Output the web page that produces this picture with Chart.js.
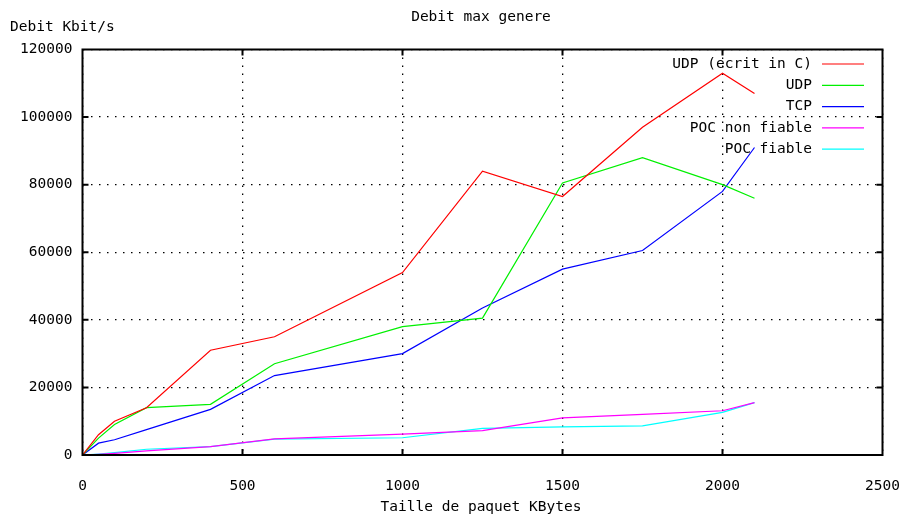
<!DOCTYPE html>
<html>
<head>
<meta charset="utf-8">
<script src="https://cdn.jsdelivr.net/npm/chart.js@4/dist/chart.umd.min.js"></script>
<style>
  html, body { margin: 0; padding: 0; background: #fff; }
  #wrap { width: 900px; height: 515px; }
</style>
</head>
<body>
<div id="wrap"><canvas id="lineChart" width="900" height="515"></canvas></div>
<script>
// valeurs
const tailles = [0, 50, 100, 200, 400, 600, 1000, 1250, 1500, 1750, 2000, 2100];
const udpC = [0, 6000, 10000, 14000, 31000, 35000, 54000, 84000, 76500, 97000, 113000, 107000];
const udp = [0, 5000, 9000, 14000, 15000, 27000, 38000, 40500, 80500, 88000, 80000, 76000];
const tcp = [0, 3500, 4500, 7500, 13500, 23500, 30000, 43500, 55000, 60500, 78000, 91000];
const pocNonFiable = [0, 200, 500, 1200, 2500, 4800, 6200, 7200, 11000, 12000, 13100, 15500];
const pocFiable = [0, 300, 700, 1700, 2500, 4700, 5100, 7900, 8300, 8600, 12600, 15500];
const xTicks = [0, 500, 1000, 1500, 2000, 2500];
const yTicks = [0, 20000, 40000, 60000, 80000, 100000, 120000];

const police = '14.5px "DejaVu Sans Mono", monospace';

function points(vals) {
    return tailles.map(function(t, i) { return { x: t, y: vals[i] }; });
}

function serie(label, vals, color) {
    return {
        label: label,
        data: points(vals),
        borderColor: color,
        backgroundColor: color,
        borderWidth: 1.2,
        pointRadius: 0,
        tension: 0
    };
}

// cadre, graduations internes, titres et legende facon gnuplot
const gnuplotStyle = {
    id: 'gnuplotStyle',
    afterDraw: function(chart) {
        const c = chart.ctx;
        const a = chart.chartArea;
        const sx = chart.scales.x, sy = chart.scales.y;
        c.save();
        c.strokeStyle = '#000';
        c.lineWidth = 2;
        c.strokeRect(a.left, a.top, a.right - a.left, a.bottom - a.top);
        c.beginPath();
        xTicks.slice(1, -1).forEach(function(v) {
            const px = sx.getPixelForValue(v);
            c.moveTo(px, a.bottom); c.lineTo(px, a.bottom - 6);
            c.moveTo(px, a.top); c.lineTo(px, a.top + 6);
        });
        yTicks.slice(1, -1).forEach(function(v) {
            const py = sy.getPixelForValue(v);
            c.moveTo(a.left, py); c.lineTo(a.left + 6, py);
            c.moveTo(a.right, py); c.lineTo(a.right - 6, py);
        });
        c.stroke();

        c.fillStyle = '#000';
        c.font = police;
        c.textBaseline = 'middle';
        c.textAlign = 'center';
        c.fillText('Debit max genere', 481, 17);
        c.fillText('Taille de paquet KBytes', 481, 507);
        c.textAlign = 'left';
        c.fillText('Debit Kbit/s', 10, 27);

        // legende
        c.textAlign = 'right';
        chart.data.datasets.forEach(function(ds, i) {
            const y = 64 + i * 21.3;
            c.fillStyle = '#000';
            c.fillText(ds.label, 812, y);
            c.strokeStyle = ds.borderColor;
            c.lineWidth = 1.2;
            c.beginPath();
            c.moveTo(822, y); c.lineTo(864, y);
            c.stroke();
        });
        c.restore();
    }
};

const ctx = document.getElementById('lineChart').getContext('2d');
new Chart(ctx, {
    type: 'line',
    data: {
        datasets: [
            serie('UDP (ecrit in C)', udpC, '#ff0000'),
            serie('UDP', udp, '#00f000'),
            serie('TCP', tcp, '#0000ff'),
            serie('POC non fiable', pocNonFiable, '#ff00ff'),
            serie('POC fiable', pocFiable, '#00ffff')
        ]
    },
    options: {
        responsive: false,
        animation: false,
        layout: { padding: { top: 49.5, right: 17.5, left: 0, bottom: 0 } },
        scales: {
            x: {
                type: 'linear',
                min: 0,
                max: 2500,
                afterBuildTicks: function(scale) {
                    scale.ticks = xTicks.map(function(v) { return { value: v }; });
                },
                afterFit: function(scale) {
                    scale.height = 60;
                    scale.paddingLeft = 0;
                    scale.paddingRight = 0;
                },
                ticks: {
                    color: '#000',
                    font: { family: '"DejaVu Sans Mono", monospace', size: 14.5 },
                    padding: 23,
                    maxRotation: 0,
                    callback: function(value) { return String(value); }
                },
                grid: { color: '#000', lineWidth: 1.3, drawTicks: false },
                border: { display: false, dash: [1.5, 6.5] }
            },
            y: {
                min: 0,
                max: 120000,
                afterBuildTicks: function(scale) {
                    scale.ticks = yTicks.map(function(v) { return { value: v }; });
                },
                afterFit: function(scale) {
                    scale.width = 82.5;
                    scale.paddingTop = 0;
                    scale.paddingBottom = 0;
                },
                ticks: {
                    color: '#000',
                    font: { family: '"DejaVu Sans Mono", monospace', size: 14.5 },
                    padding: 10,
                    callback: function(value) { return String(value); }
                },
                grid: { color: '#000', lineWidth: 1.3, drawTicks: false },
                border: { display: false, dash: [1.5, 6.5] }
            }
        },
        plugins: {
            legend: { display: false },
            tooltip: { enabled: false }
        }
    },
    plugins: [gnuplotStyle]
});
</script>
</body>
</html>
